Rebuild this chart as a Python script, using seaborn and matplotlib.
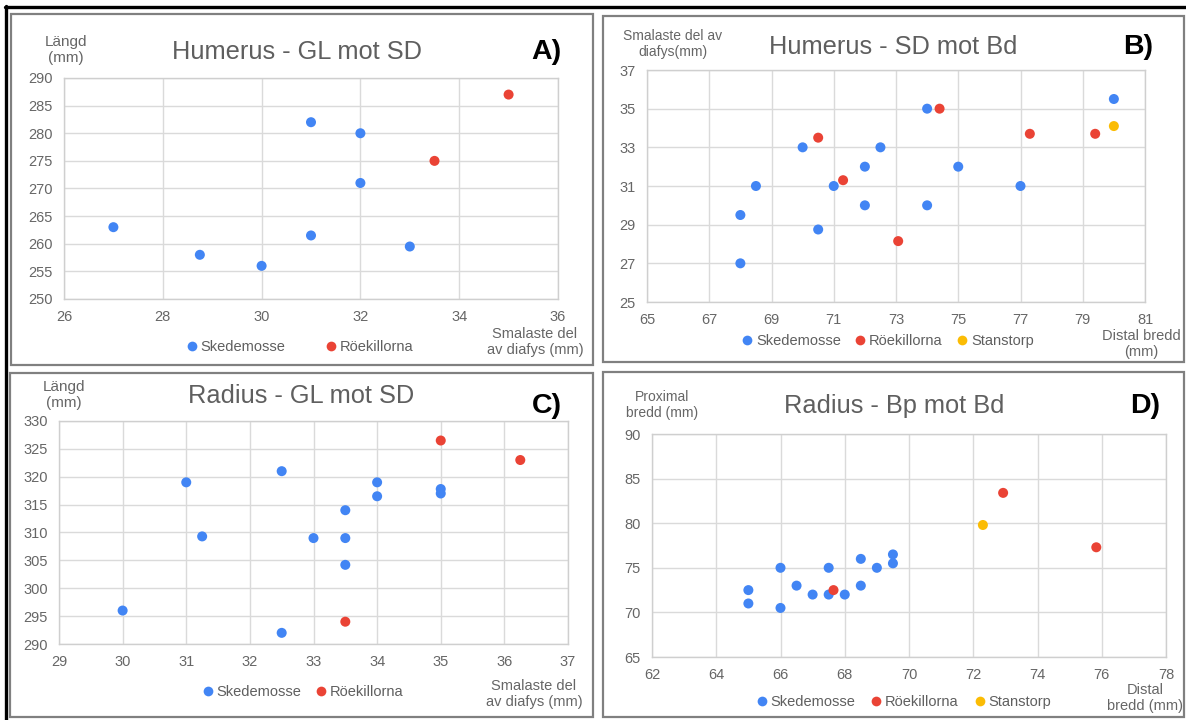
import matplotlib
matplotlib.use("Agg")
import matplotlib.pyplot as plt
import seaborn as sns
import pandas as pd
from matplotlib.lines import Line2D
from matplotlib.patches import Rectangle

W, H = 1186, 720

sns.set_theme(style="white")
plt.rcParams['font.family'] = ['Liberation Sans', 'DejaVu Sans']

SITES = ["Skedemosse", "Röekillorna", "Stanstorp"]
COLORS = {"Skedemosse": "#4285F4", "Röekillorna": "#EA4335", "Stanstorp": "#FBBC04"}

# ---- Panel A: Humerus - GL mot SD ----
a_ske_x = [27, 28.75, 30, 31, 31, 32, 32, 33]
a_ske_y = [263, 258, 256, 282, 261.5, 280, 271, 259.5]
a_roe_x = [33.5, 35]
a_roe_y = [275, 287]
a_xticks = [26, 28, 30, 32, 34, 36]
a_yticks = [250, 255, 260, 265, 270, 275, 280, 285, 290]

# ---- Panel B: Humerus - SD mot Bd ----
b_ske_x = [68, 68, 68.5, 70, 70.5, 71, 72, 72, 72.5, 74, 74, 75, 77, 80]
b_ske_y = [29.5, 27, 31, 33, 28.75, 31, 32, 30, 33, 35, 30, 32, 31, 35.5]
b_roe_x = [70.5, 71.3, 73.07, 74.4, 77.3, 79.4]
b_roe_y = [33.5, 31.3, 28.15, 35, 33.7, 33.7]
b_sta_x = [80]
b_sta_y = [34.1]
b_xticks = [65, 67, 69, 71, 73, 75, 77, 79, 81]
b_yticks = [25, 27, 29, 31, 33, 35, 37]

# ---- Panel C: Radius - GL mot SD ----
c_ske_x = [30, 31, 31.25, 32.5, 32.5, 33, 33.5, 33.5, 33.5, 34, 34, 35, 35]
c_ske_y = [296, 319, 309.3, 321, 292, 309, 314, 309, 304.2, 319, 316.5, 317.8, 317]
c_roe_x = [33.5, 35, 36.25]
c_roe_y = [294, 326.5, 323]
c_xticks = [29, 30, 31, 32, 33, 34, 35, 36, 37]
c_yticks = [290, 295, 300, 305, 310, 315, 320, 325, 330]

# ---- Panel D: Radius - Bp mot Bd ----
d_ske_x = [65, 65, 66, 66, 66.5, 67, 67.5, 67.5, 68, 68.5, 68.5, 69, 69.5, 69.5]
d_ske_y = [72.5, 71, 75, 70.5, 73, 72, 75, 72, 72, 76, 73, 75, 76.5, 75.5]
d_roe_x = [67.65, 72.93, 75.83]
d_roe_y = [72.5, 83.4, 77.3]
d_sta_x = [72.3]
d_sta_y = [79.8]
d_xticks = [62, 64, 66, 68, 70, 72, 74, 76, 78]
d_yticks = [65, 70, 75, 80, 85, 90]


def frame(groups):
    rows = []
    for site, xs, ys in groups:
        for x, y in zip(xs, ys):
            rows.append({"x": x, "y": y, "site": site})
    return pd.DataFrame(rows)


fig = plt.figure(figsize=(W / 100, H / 100), dpi=100)
fig.patch.set_facecolor("white")


def fx(x):
    return x / W


def fy(y):
    return 1 - y / H


def add_axes_px(l, t, r, b):
    return fig.add_axes([fx(l), fy(b), (r - l) / W, (b - t) / H])


# panel borders and outer black lines
for (l, t, r, b) in [(11, 14, 593, 365), (603, 16, 1184, 362),
                     (10, 373, 593, 717), (603, 372, 1184, 717)]:
    fig.add_artist(Rectangle((fx(l), fy(b)), (r - l) / W, (b - t) / H,
                             transform=fig.transFigure, fill=False,
                             edgecolor="#808080", linewidth=1.6))
fig.add_artist(Line2D([fx(5), 1.0], [fy(7), fy(7)], transform=fig.transFigure,
                      color="black", linewidth=2.4))
fig.add_artist(Line2D([fx(6), fx(6)], [fy(6), 0.0], transform=fig.transFigure,
                      color="black", linewidth=2.4))

TXT = "#5f5f5f"
TICK = "#666666"

panels = [
    dict(box=(64, 78, 558, 299),
         groups=[("Skedemosse", a_ske_x, a_ske_y), ("Röekillorna", a_roe_x, a_roe_y)],
         xlim=(26, 36), ylim=(250, 290), xt=a_xticks, yt=a_yticks,
         title="Humerus - GL mot SD", tpos=(297, 59),
         letter="A)", lpos=(531, 59),
         ylab="Längd\n(mm)", ylpos=(66, 50), ylfs=11,
         xlab="Smalaste del\nav diafys (mm)", xlpos=(535, 342),
         leg=(300, 347), colsp=2.75),
    dict(box=(647, 70, 1145, 302),
         groups=[("Skedemosse", b_ske_x, b_ske_y), ("Röekillorna", b_roe_x, b_roe_y),
                 ("Stanstorp", b_sta_x, b_sta_y)],
         xlim=(65, 81), ylim=(25, 37), xt=b_xticks, yt=b_yticks,
         title="Humerus - SD mot Bd", tpos=(893, 54),
         letter="B)", lpos=(1123, 54),
         ylab="Smalaste del av\ndiafys(mm)", ylpos=(673, 44), ylfs=10,
         xlab="Distal bredd\n(mm)", xlpos=(1141, 344),
         leg=(888, 341), colsp=1.0),
    dict(box=(59, 421, 568, 644),
         groups=[("Skedemosse", c_ske_x, c_ske_y), ("Röekillorna", c_roe_x, c_roe_y)],
         xlim=(29, 37), ylim=(290, 330), xt=c_xticks, yt=c_yticks,
         title="Radius - GL mot SD", tpos=(301, 403),
         letter="C)", lpos=(532, 413),
         ylab="Längd\n(mm)", ylpos=(64, 395), ylfs=11,
         xlab="Smalaste del\nav diafys (mm)", xlpos=(534, 694),
         leg=(303, 692), colsp=1.0),
    dict(box=(652, 434, 1166, 657),
         groups=[("Skedemosse", d_ske_x, d_ske_y), ("Röekillorna", d_roe_x, d_roe_y),
                 ("Stanstorp", d_sta_x, d_sta_y)],
         xlim=(62, 78), ylim=(65, 90), xt=d_xticks, yt=d_yticks,
         title="Radius - Bp mot Bd", tpos=(894, 413),
         letter="D)", lpos=(1130, 413),
         ylab="Proximal\nbredd (mm)", ylpos=(662, 405), ylfs=10,
         xlab="Distal\nbredd (mm)", xlpos=(1145, 698),
         leg=(904, 702), colsp=1.1),
]

for p in panels:
    ax = add_axes_px(*p["box"])
    df = frame(p["groups"])
    order = [g[0] for g in p["groups"]]
    sns.scatterplot(data=df, x="x", y="y", hue="site", hue_order=order,
                    palette=COLORS, s=52, linewidth=0, legend=False, ax=ax,
                    zorder=3, clip_on=False)
    ax.set_xlim(*p["xlim"])
    ax.set_ylim(*p["ylim"])
    ax.set_xticks(p["xt"])
    ax.set_yticks(p["yt"])
    ax.set_xlabel("")
    ax.set_ylabel("")
    ax.set_facecolor("white")
    ax.grid(True, color="#dadada", linewidth=1.0)
    ax.set_axisbelow(True)
    for sp in ax.spines.values():
        sp.set_color("#cfcfcf")
        sp.set_linewidth(1.0)
    ax.tick_params(axis="both", length=0, labelsize=10.5, labelcolor=TICK)
    ax.tick_params(axis="x", pad=8)
    ax.tick_params(axis="y", pad=8)

    fig.text(fx(p["tpos"][0]), fy(p["tpos"][1]), p["title"], ha="center",
             va="baseline", fontsize=18.3, color=TXT)
    fig.text(fx(p["lpos"][0]), fy(p["lpos"][1]), p["letter"], ha="left",
             va="baseline", fontsize=20.5, fontweight="bold", color="black")
    fig.text(fx(p["ylpos"][0]), fy(p["ylpos"][1]), p["ylab"], ha="center",
             va="center", multialignment="center", fontsize=p["ylfs"],
             color=TICK, linespacing=1.15)
    fig.text(fx(p["xlpos"][0]), fy(p["xlpos"][1]), p["xlab"], ha="center",
             va="center", multialignment="center", fontsize=10.5,
             color=TICK, linespacing=1.1)

    handles = [Line2D([], [], marker="o", linestyle="", color=COLORS[s],
                      markersize=7, markeredgewidth=0) for s in order]
    ax.legend(handles, order, loc="center",
              bbox_to_anchor=(fx(p["leg"][0]), fy(p["leg"][1])),
              bbox_transform=fig.transFigure, ncol=len(order), frameon=False,
              handlelength=0.7, handletextpad=0.25, columnspacing=p["colsp"],
              fontsize=10.5, labelcolor=TXT, borderpad=0, borderaxespad=0)

fig.savefig("out.png", dpi=100)
